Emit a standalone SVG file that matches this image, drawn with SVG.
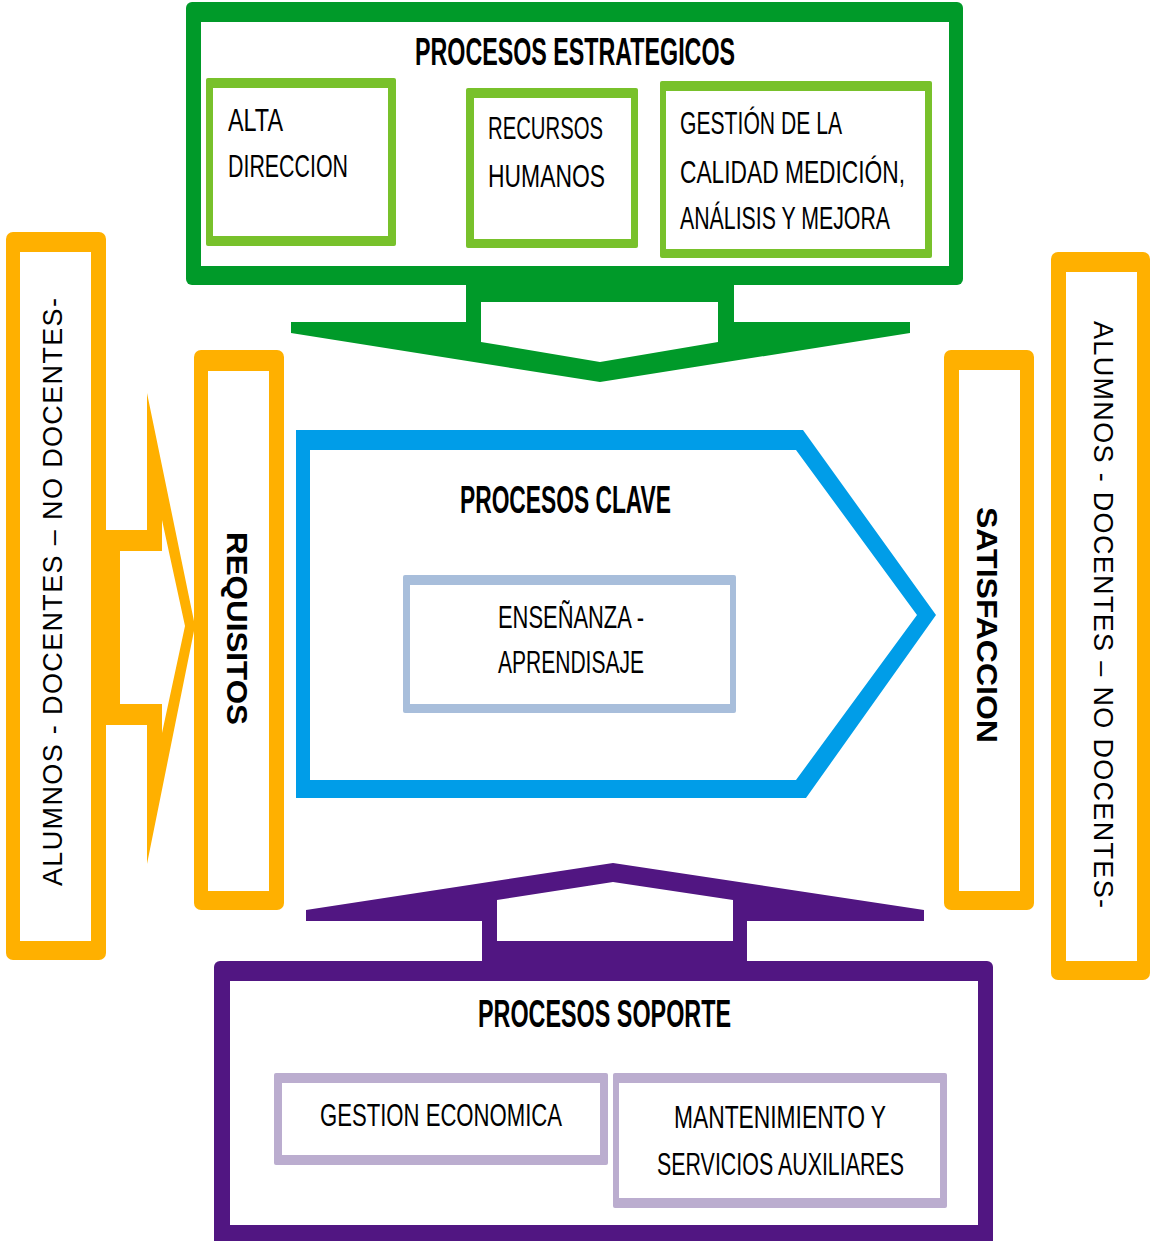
<svg xmlns="http://www.w3.org/2000/svg" width="1150" height="1241" viewBox="0 0 1150 1241">
<style>
.t{font-family:"Liberation Sans",Arial,sans-serif;fill:#000;font-size:32px}
.b{font-weight:bold;font-size:38px}
.v{font-size:27px}
.vb{font-weight:bold;font-size:29px}
.green{fill:#009A29}.lgreen{fill:#78C12B}.orange{fill:#FFB000}.blue{fill:#009DE8}
.steel{fill:#A8BEDB}.purple{fill:#511682}.lpurple{fill:#BBADCF}.w{fill:#fff}
</style>
<rect width="1150" height="1241" fill="#fff"/>
<g id="connectors">
  <path class="green" fill-rule="evenodd" d="M466,280 L734,280 L734,322 L910,322 L910,333 L600,382 L291,333 L291,322 L466,322 Z M481,302 L718,302 L718,342 L600,362 L481,342 Z"/>
  <path class="purple" fill-rule="evenodd" d="M482,966 L747,966 L747,921 L924,921 L924,910 L613,863 L306,910 L306,921 L482,921 Z M497,941 L733,941 L733,900 L613,882 L497,900 Z"/>
  <path class="orange" fill-rule="evenodd" d="M100,530 L147,530 L147,393 L195,626 L147,864 L147,725 L100,725 Z M120,551 L162,551 L162,520 L185,626 L162,733 L162,704 L120,704 Z"/>
</g>
<g id="procesos-estrategicos">
  <rect class="green" x="186" y="2" width="777" height="283" rx="6"/>
  <rect class="w" x="201" y="22" width="748" height="244"/>
  <text class="t b" x="415" y="65" textLength="320" lengthAdjust="spacingAndGlyphs">PROCESOS ESTRATEGICOS</text>
</g>
<g id="alta-direccion">
  <rect class="lgreen" x="206" y="78" width="190" height="168" rx="2"/>
  <rect class="w" x="213" y="88" width="175" height="148"/>
  <text class="t" x="228" y="131" textLength="55" lengthAdjust="spacingAndGlyphs">ALTA</text>
  <text class="t" x="228" y="177" textLength="120" lengthAdjust="spacingAndGlyphs">DIRECCION</text>
</g>
<g id="recursos-humanos">
  <rect class="lgreen" x="466" y="88" width="172" height="160" rx="2"/>
  <rect class="w" x="474" y="98" width="157" height="141"/>
  <text class="t" x="488" y="139" textLength="115" lengthAdjust="spacingAndGlyphs">RECURSOS</text>
  <text class="t" x="488" y="187" textLength="117" lengthAdjust="spacingAndGlyphs">HUMANOS</text>
</g>
<g id="gestion-calidad">
  <rect class="lgreen" x="660" y="81" width="272" height="177" rx="2"/>
  <rect class="w" x="666" y="91" width="259" height="158"/>
  <text class="t" x="680" y="134" textLength="162" lengthAdjust="spacingAndGlyphs">GESTIÓN DE LA</text>
  <text class="t" x="680" y="183" textLength="225" lengthAdjust="spacingAndGlyphs">CALIDAD MEDICIÓN,</text>
  <text class="t" x="680" y="229" textLength="210" lengthAdjust="spacingAndGlyphs">ANÁLISIS Y MEJORA</text>
</g>
<g id="clientes-entrada">
  <rect class="orange" x="6" y="232" width="100" height="728" rx="7"/>
  <rect class="w" x="20" y="252" width="71" height="689"/>
  <text class="t v" transform="translate(62,886) rotate(-90)" textLength="588" lengthAdjust="spacing">ALUMNOS  - DOCENTES – NO DOCENTES-</text>
</g>
<g id="requisitos">
  <rect class="orange" x="194" y="350" width="90" height="560" rx="7"/>
  <rect class="w" x="208" y="371" width="61" height="520"/>
  <text class="t vb" transform="translate(227,532) rotate(90)" textLength="193" lengthAdjust="spacingAndGlyphs">REQUISITOS</text>
</g>
<g id="procesos-clave">
  <path class="blue" fill-rule="evenodd" d="M296,430 L803,430 L936,615 L806,798 L296,798 Z M310,450 L796,450 L917,615 L796,780 L310,780 Z"/>
  <text class="t b" x="460" y="513" textLength="211" lengthAdjust="spacingAndGlyphs">PROCESOS CLAVE</text>
</g>
<g id="ensenanza-aprendizaje">
  <rect class="steel" x="403" y="575" width="333" height="138" rx="2"/>
  <rect class="w" x="410" y="585" width="320" height="119"/>
  <text class="t" x="498" y="628" font-size="31" textLength="146" lengthAdjust="spacingAndGlyphs">ENSEÑANZA -</text>
  <text class="t" x="498" y="673" font-size="31" textLength="146" lengthAdjust="spacingAndGlyphs">APRENDISAJE</text>
</g>
<g id="satisfaccion">
  <rect class="orange" x="944" y="350" width="90" height="560" rx="7"/>
  <rect class="w" x="959" y="370" width="61" height="521"/>
  <text class="t vb" font-size="30" transform="translate(977,507) rotate(90)" textLength="236" lengthAdjust="spacingAndGlyphs">SATISFACCION</text>
</g>
<g id="clientes-salida">
  <rect class="orange" x="1051" y="252" width="99" height="728" rx="7"/>
  <rect class="w" x="1066" y="272" width="71" height="689"/>
  <text class="t v" transform="translate(1094,321) rotate(90)" textLength="587" lengthAdjust="spacing">ALUMNOS  - DOCENTES – NO DOCENTES-</text>
</g>
<g id="procesos-soporte">
  <rect class="purple" x="214" y="961" width="779" height="290" rx="6"/>
  <rect class="w" x="230" y="981" width="748" height="244"/>
  <text class="t b" x="478" y="1027" textLength="253" lengthAdjust="spacingAndGlyphs">PROCESOS SOPORTE</text>
</g>
<g id="gestion-economica">
  <rect class="lpurple" x="274" y="1073" width="334" height="92" rx="2"/>
  <rect class="w" x="282" y="1083" width="318" height="72"/>
  <text class="t" x="320" y="1126" textLength="242" lengthAdjust="spacingAndGlyphs">GESTION ECONOMICA</text>
</g>
<g id="mantenimiento">
  <rect class="lpurple" x="613" y="1073" width="334" height="135" rx="2"/>
  <rect class="w" x="619" y="1083" width="321" height="115"/>
  <text class="t" x="674" y="1128" textLength="212" lengthAdjust="spacingAndGlyphs">MANTENIMIENTO Y</text>
  <text class="t" x="657" y="1175" textLength="247" lengthAdjust="spacingAndGlyphs">SERVICIOS AUXILIARES</text>
</g>
</svg>
